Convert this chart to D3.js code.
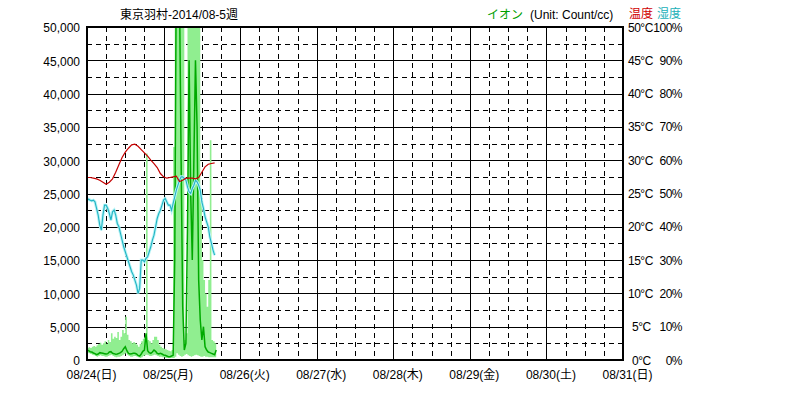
<!DOCTYPE html>
<html>
<head>
<meta charset="utf-8">
<script src="https://cdn.jsdelivr.net/npm/d3@7"></script>
<style>
  body { margin: 0; background: #fff; }
  text { font-family: "Liberation Sans", Arial, "Noto Sans CJK JP", sans-serif; font-size: 12px; }
</style>
</head>
<body>
<div id="chart"></div>
<script>
// 08/24 00:00 からの 30 分ごとのイオン値 (Count/cc)
var ionAvg = [1500,1400,1250,1200,1050,950,800,900,1100,1050,
  1000,950,900,950,1200,1250,1000,950,850,900,
  1000,1100,1300,1700,2000,1400,1000,900,950,1000,
  1000,900,700,600,900,1300,1500,4000,1400,1100,
  1000,1200,1500,1300,1000,900,1000,900,750,700,
  600,500,500,600,700,15000,60000,60000,55000,30000,
  8000,1500,2500,20000,45000,25000,15000,30000,45000,35000,
  12000,6000,3000,5000,2000,1500,1200,1100,1000,900,
  800,1500];
var ionMax = [1800,1900,1800,2000,2100,2000,2200,2400,2600,2300,
  2500,2800,2400,3000,2700,4000,3200,3500,3300,4200,
  3000,3500,4500,4000,6500,3800,3000,2800,2500,2700,
  2500,2300,2000,2400,2800,3200,3500,31000,3000,2800,
  2500,3000,3500,3500,3000,2300,2000,1800,1700,1600,
  1500,1400,1300,1500,32000,60000,60000,60000,60000,60000,
  60000,3000,4000,60000,60000,60000,60000,60000,60000,60000,
  60000,25000,15000,12000,10000,8000,12000,33000,3000,2800,
  2500,2800];
var ionMin = [1100,1000,900,800,700,600,500,600,700,600,
  600,500,500,600,700,800,600,500,400,500,
  500,600,700,900,1000,800,600,500,500,600,
  600,500,400,300,400,600,700,800,700,600,
  600,700,800,700,600,500,500,400,400,300,
  300,300,300,300,300,500,1000,800,600,500,
  600,800,900,700,600,500,600,700,800,700,
  600,500,500,600,500,500,400,400,400,400,
  400,600];
// 30 分ごとの湿度 (%)
var humidity = [48.0,48.3,48.0,47.8,48.0,47.5,45.5,43.5,40.5,39.0,
  43.5,46.5,46.5,45.5,44.0,42.0,44.5,45.0,43.5,41.0,
  40.0,38.0,36.0,34.0,32.5,31.0,29.5,28.0,26.5,25.5,
  24.0,22.5,20.0,21.5,30.0,30.0,29.5,30.5,31.0,32.5,
  34.0,36.0,37.5,40.0,42.5,44.0,45.0,46.5,48.0,48.5,
  47.5,46.5,46.5,45.0,47.0,49.0,51.0,52.5,54.0,55.0,
  55.0,54.5,54.0,52.0,50.5,50.0,51.5,52.5,54.0,53.5,
  52.5,51.0,47.5,45.5,43.0,41.5,40.0,37.0,35.0,33.0,
  31.5];
// 1 時間ごとの温度 (°C)
var temperature = [27.4,27.4,27.3,27.2,27.0,26.7,26.4,26.7,27.2,28.2,
  29.3,30.4,31.2,31.8,32.3,32.4,32.1,31.6,31.1,30.6,
  30.0,29.5,28.9,28.0,27.5,27.3,27.4,27.5,27.6,26.8,
  27.0,27.3,27.3,27.3,27.2,27.4,28.2,29.0,29.4,29.5,
  29.6];

var dayLabels = ["08/24(日)","08/25(月)","08/26(火)","08/27(水)","08/28(木)","08/29(金)","08/30(土)","08/31(日)"];
var ionTicks = [0,5000,10000,15000,20000,25000,30000,35000,40000,45000,50000];
var tempTicks = [0,5,10,15,20,25,30,35,40,45,50];
var humTicks = [0,10,20,30,40,50,60,70,80,90,100];

var margin = { top: 27, left: 87, right: 163, bottom: 39 },
  width = 786 - margin.left - margin.right,
  height = 399 - margin.top - margin.bottom;

var start = new Date(2014, 7, 24);
var end = new Date(2014, 7, 31);

var svg = d3.select("#chart")
  .append("svg")
  .attr("width", 786)
  .attr("height", 399)
  .append("g")
  .attr("transform", "translate(" + margin.left + "," + margin.top + ")");

var xPositionScale = d3.scaleTime().domain([start, end]).range([0, width]);
var yIon = d3.scaleLinear().domain([0, 50000]).range([height, 0]);
var yTemp = d3.scaleLinear().domain([0, 50]).range([height, 0]);
var yHum = d3.scaleLinear().domain([0, 100]).range([height, 0]);

function halfHour(i) { return d3.timeMinute.offset(start, i * 30); }
function hour(i) { return d3.timeHour.offset(start, i); }

// grid
var sixHours = d3.timeHour.every(6).range(start, end);
svg.selectAll(".vgrid")
  .data(sixHours)
  .enter().append("line")
  .attr("class", "vgrid")
  .attr("x1", function(d) { return Math.round(xPositionScale(d)) + 0.5; })
  .attr("x2", function(d) { return Math.round(xPositionScale(d)) + 0.5; })
  .attr("y1", 0)
  .attr("y2", height)
  .attr("stroke", "black")
  .attr("stroke-dasharray", function(d) { return d.getHours() == 0 ? null : "5,4"; });

var halfSteps = [];
ionTicks.forEach(function(v) { halfSteps.push(v); if (v < 50000) halfSteps.push(v + 2500); });
svg.selectAll(".hgrid")
  .data(halfSteps)
  .enter().append("line")
  .attr("class", "hgrid")
  .attr("x1", 0)
  .attr("x2", width)
  .attr("y1", function(d) { return Math.round(yIon(d)) + 0.5; })
  .attr("y2", function(d) { return Math.round(yIon(d)) + 0.5; })
  .attr("stroke", "black")
  .attr("stroke-dasharray", function(d) { return d % 5000 == 0 ? null : "5,4"; });

svg.append("clipPath")
  .attr("id", "plot-clip")
  .append("rect")
  .attr("width", width)
  .attr("height", height);

var plot = svg.append("g").attr("clip-path", "url(#plot-clip)");

// ion band + average
var ionBand = d3.area()
  .curve(d3.curveStepAfter)
  .x(function(d, i) { return xPositionScale(halfHour(i)); })
  .y0(function(d, i) { return yIon(ionMin[i]); })
  .y1(function(d, i) { return yIon(ionMax[i]); });

plot.append("path")
  .datum(ionMax)
  .attr("d", ionBand)
  .attr("fill", "#90ee90");

var ionLine = d3.line()
  .x(function(d, i) { return xPositionScale(halfHour(i)); })
  .y(function(d) { return yIon(d); });

plot.append("path")
  .datum(ionAvg)
  .attr("d", ionLine)
  .attr("fill", "none")
  .attr("stroke", "#00aa00")
  .attr("stroke-width", 1.5);

// humidity
var humLine = d3.line()
  .x(function(d, i) { return xPositionScale(halfHour(i)); })
  .y(function(d) { return yHum(d); });

plot.append("path")
  .datum(humidity)
  .attr("d", humLine)
  .attr("fill", "none")
  .attr("stroke", "#b8f4f6")
  .attr("stroke-width", 3);

plot.append("path")
  .datum(humidity)
  .attr("d", humLine)
  .attr("fill", "none")
  .attr("stroke", "#22b4c4")
  .attr("stroke-width", 1.1);

// temperature
var tempLine = d3.line()
  .x(function(d, i) { return xPositionScale(hour(i)); })
  .y(function(d) { return yTemp(d); });

plot.append("path")
  .datum(temperature)
  .attr("d", tempLine)
  .attr("fill", "none")
  .attr("stroke", "#c40000")
  .attr("stroke-width", 1.2);

// frame
svg.append("rect")
  .attr("x", 0)
  .attr("y", 0)
  .attr("width", width)
  .attr("height", height)
  .attr("fill", "none")
  .attr("stroke", "black")
  .attr("stroke-width", 2);

// axes
var days = d3.timeDay.range(start, d3.timeDay.offset(end, 1));
var xAxis = d3.axisBottom(xPositionScale)
  .tickValues(days)
  .tickSize(0)
  .tickPadding(10)
  .tickFormat(function(d, i) { return dayLabels[i]; });

svg.append("g")
  .attr("class", "axis x-axis")
  .attr("transform", "translate(4," + height + ")")
  .call(xAxis)
  .call(function(g) { g.select(".domain").remove(); });

var yAxis = d3.axisLeft(yIon)
  .tickValues(ionTicks)
  .tickSize(0)
  .tickPadding(7)
  .tickFormat(d3.format(","));

svg.append("g")
  .attr("class", "axis y-axis")
  .attr("transform", "translate(0,1)")
  .call(yAxis)
  .call(function(g) { g.select(".domain").remove(); });

svg.selectAll(".x-axis text").attr("fill", "black").attr("font-size", 12);
svg.selectAll(".y-axis text").attr("fill", "black").attr("font-size", 11.5);

svg.selectAll(".tempLabel")
  .data(tempTicks)
  .enter().append("text")
  .attr("class", "tempLabel")
  .attr("x", function(d) { return width + 5 + (d < 10 ? 4 : 0); })
  .attr("y", function(d) { return yTemp(d) + 4.5; })
  .attr("font-size", 11)
  .attr("letter-spacing", -0.5)
  .text(function(d) { return d + "°C"; });

svg.selectAll(".humLabel")
  .data(humTicks)
  .enter().append("text")
  .attr("class", "humLabel")
  .attr("x", width + 59)
  .attr("y", function(d) { return yHum(d) + 4.5; })
  .attr("text-anchor", "end")
  .attr("font-size", 11)
  .attr("letter-spacing", -0.5)
  .text(function(d) { return d + "%"; });

// title and legend
svg.append("text")
  .attr("x", 33)
  .attr("y", -8)
  .text("東京羽村-2014/08-5週");

svg.append("text")
  .attr("x", 400)
  .attr("y", -8)
  .attr("fill", "#00a000")
  .text("イオン");

svg.append("text")
  .attr("x", 443)
  .attr("y", -8)
  .text("(Unit: Count/cc)");

svg.append("text")
  .attr("x", width + 6)
  .attr("y", -9)
  .attr("fill", "#d00000")
  .text("温度");

svg.append("text")
  .attr("x", width + 34)
  .attr("y", -9)
  .attr("fill", "#20b0b8")
  .text("湿度");
</script>
</body>
</html>
